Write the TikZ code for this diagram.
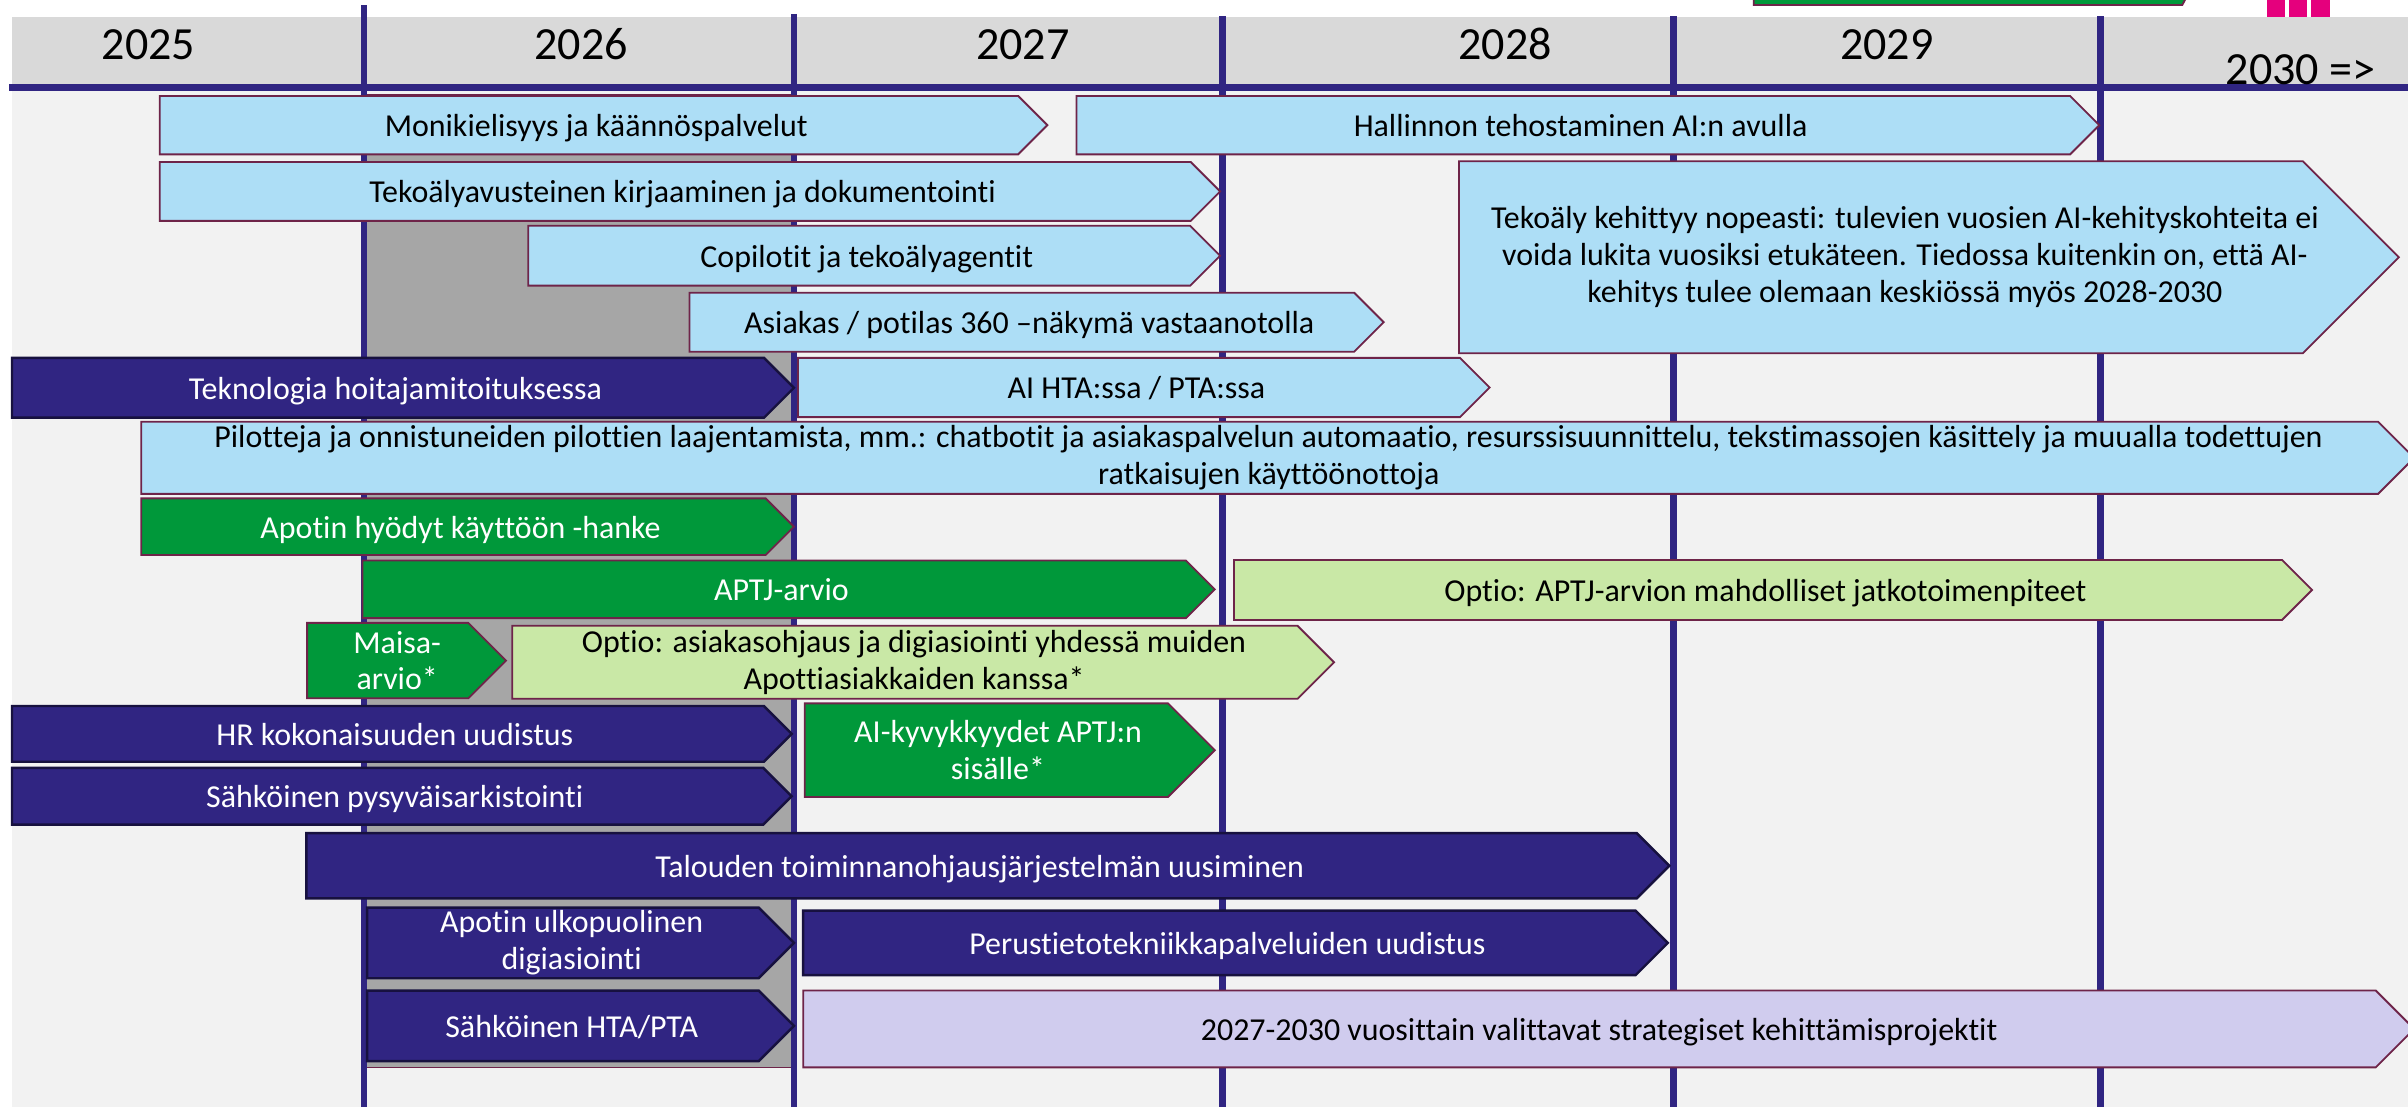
\documentclass[tikz,border=0pt]{standalone}
\usepackage{fontspec}
\setmainfont{Carlito}[Ligatures=NoCommon]
\definecolor{lblue}{HTML}{ADDEF6}
\definecolor{navy}{HTML}{302582}
\definecolor{navyd}{HTML}{17113F}
\definecolor{grn}{HTML}{00983A}
\definecolor{lgrn}{HTML}{C9E8A6}
\definecolor{lav}{HTML}{D0CCEE}
\definecolor{shade}{HTML}{A6A6A6}
\definecolor{bgl}{HTML}{F2F2F2}
\definecolor{hdr}{HTML}{D9D9D9}
\definecolor{maroon}{HTML}{6E2449}
\definecolor{pink}{HTML}{E5007D}
\newcommand{\boxfont}{\fontsize{20.8}{24}\selectfont}
\newcommand{\yearfont}{\fontsize{30}{36}\selectfont}
\newcommand{\chev}[8]{%
  \pgfmathsetmacro{\chvh}{#6-#4}%
  \path[#1] (#3,#4) -- ({#5-0.5*\chvh},#4) -- (#5,{(#4+#6)/2}) -- ({#5-0.5*\chvh},#6) -- (#3,#6) -- cycle;
  \node[#7] (#2) at ({(#3+#5-0.25*\chvh)/2},{(#4+#6)/2}) {#8};
}
\tikzset{
  lb/.style={fill=lblue, draw=maroon, line width=1.2pt, line join=miter},
  nv/.style={fill=navy, draw=navyd, line width=1.6pt},
  gr/.style={fill=grn, draw=maroon, line width=1.2pt},
  lg/.style={fill=lgrn, draw=maroon, line width=1.2pt},
  lv/.style={fill=lav, draw=maroon, line width=1.2pt},
  tb/.style={font=\boxfont, text=black, inner sep=0pt, text height=16pt, text depth=1pt},
  tw/.style={tb, text=white},
  mb/.style={font=\boxfont, text=black, align=center, inner sep=0pt},
  mw/.style={mb, text=white},
  yr/.style={font=\yearfont, text=black, inner sep=0pt, anchor=base},
  vline/.style={draw=navy, line width=4.5pt},
}
\begin{document}
\begin{tikzpicture}[x=1pt,y=-1pt]
\useasboundingbox (0,0) rectangle (1568,721);
\clip (0,0) rectangle (1568,721);
% backgrounds
\fill[white] (0,0) rectangle (1568,721);
\fill[bgl] (8,57) rectangle (1568,721);
\fill[hdr] (8,11) rectangle (1568,54.5);
% shaded 2026 block
\path[fill=shade, draw=maroon, line width=1pt] (237,62) rectangle (518,695);
% year lines
\draw[vline] (237,3.5) -- (237,721);
\draw[vline] (517,9) -- (517,721);
\draw[vline] (796,10.5) -- (796,721);
\draw[vline] (1090,10.5) -- (1090,721);
\draw[vline] (1367.5,10.5) -- (1367.5,721);
\draw[navy, line width=4.5pt] (6,57) -- (1568,57);
% years
\node[yr] (y25) at (96.7,39) {2025};
\node[yr] (y26) at (378.5,39) {2026};
\node[yr] (y27) at (666,39) {2027};
\node[yr] (y28) at (980,39) {2028};
\node[yr] (y29) at (1228.6,39) {2029};
\node[yr] (y30) at (1498,55) {2030 =>};
% top partial elements
\path[fill=grn, draw=maroon, line width=1.2pt] (1142,-20) -- (1142,3.3) -- (1421,3.3) -- (1433,-20) -- cycle;
\fill[pink] (1476,0) rectangle (1488,11);
\fill[pink] (1490.5,0) rectangle (1502.5,11);
\fill[pink] (1505,0) rectangle (1517,11);
% boxes
\chev{lb}{mon}{104}{62.5}{682}{100.5}{tb}{Monikielisyys ja käännöspalvelut}
\chev{lb}{hal}{701}{62.5}{1367}{100.5}{tb}{Hallinnon tehostaminen AI:n avulla}
\chev{lb}{kir}{104}{105.5}{794.5}{143.8}{tb}{Tekoälyavusteinen kirjaaminen ja dokumentointi}
\chev{lb}{big}{950}{105}{1562}{230}{mb}{Tekoäly kehittyy nopeasti: tulevien vuosien AI-kehityskohteita ei\\voida lukita vuosiksi etukäteen. Tiedossa kuitenkin on, että AI-\\kehitys tulee olemaan keskiössä myös 2028-2030}
\chev{lb}{cop}{344}{147}{794.5}{186}{tb}{Copilotit ja tekoälyagentit}
\chev{lb}{asi}{449}{190.6}{901}{229}{tb}{Asiakas / potilas 360 –näkymä vastaanotolla}
\chev{nv}{tek}{7.8}{233}{517}{272}{tw}{Teknologia hoitajamitoituksessa}
\chev{lb}{aihta}{519.6}{233}{970}{271.6}{tb}{AI HTA:ssa / PTA:ssa}
\chev{lb}{pil}{92}{274.6}{1572}{321.6}{mb}{Pilotteja ja onnistuneiden pilottien laajentamista, mm.: chatbotit ja asiakaspalvelun automaatio, resurssisuunnittelu, tekstimassojen käsittely ja muualla todettujen\\ratkaisujen käyttöönottoja}
\chev{gr}{apo}{92}{324.5}{517}{361.4}{tw}{Apotin hyödyt käyttöön -hanke}
\chev{gr}{aptj}{236}{365}{791}{402.5}{tw}{APTJ-arvio}
\chev{lg}{opt1}{803.5}{364.6}{1505.5}{403.7}{tb}{Optio: APTJ-arvion mahdolliset jatkotoimenpiteet}
\chev{gr}{mai}{200}{405.6}{329.5}{454.7}{mw}{Maisa-\\arvio*}
\chev{lg}{opt2}{333.6}{407.5}{868.7}{455}{mb}{Optio: asiakasohjaus ja digiasiointi yhdessä muiden\\Apottiasiakkaiden kanssa*}
\chev{nv}{hr}{7.8}{459.7}{515.5}{496}{tw}{HR kokonaisuuden uudistus}
\chev{gr}{aik}{524}{458}{791}{519}{mw}{AI-kyvykkyydet APTJ:n\\sisälle*}
\chev{nv}{sah}{7.8}{500}{515.5}{537}{tw}{Sähköinen pysyväisarkistointi}
\chev{nv}{tal}{199.5}{542.5}{1087}{585}{tw}{Talouden toiminnanohjausjärjestelmän uusiminen}
\chev{nv}{aul}{239}{591}{517}{637}{mw}{Apotin ulkopuolinen\\digiasiointi}
\chev{nv}{per}{523}{593}{1086}{635}{tw}{Perustietotekniikkapalveluiden uudistus}
\chev{nv}{shta}{239}{645}{517}{691}{tw}{Sähköinen HTA/PTA}
\chev{lv}{str}{523}{645}{1572}{695}{tb}{2027-2030 vuosittain valittavat strategiset kehittämisprojektit}
\end{tikzpicture}
\end{document}
